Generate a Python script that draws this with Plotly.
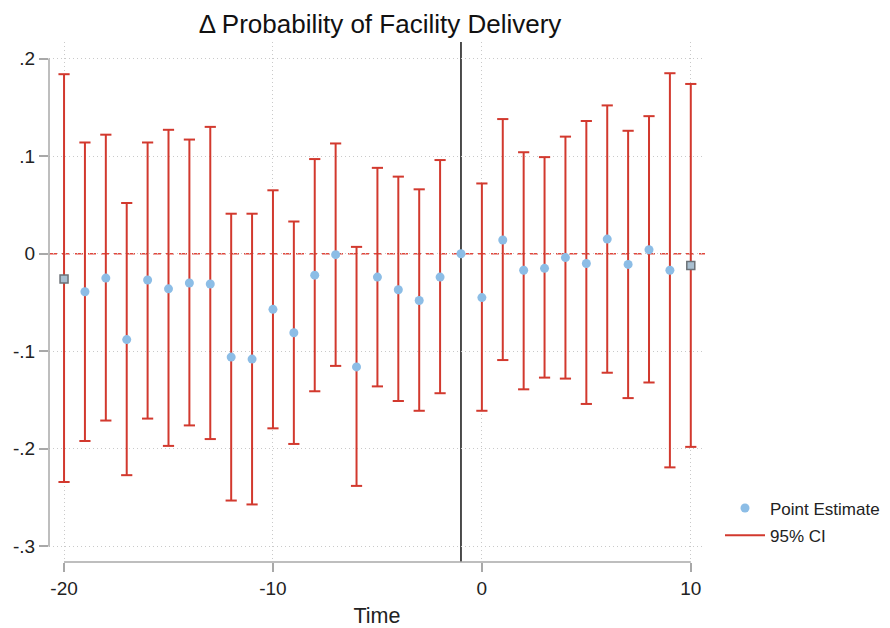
import plotly.graph_objects as go

time = list(range(-20, 11))
estimate = [-0.026, -0.039, -0.025, -0.088, -0.027, -0.036, -0.030, -0.031, -0.106, -0.108, -0.057,
            -0.081, -0.022, -0.001, -0.116, -0.024, -0.037, -0.048, -0.024, 0.0,
            -0.045, 0.014, -0.017, -0.015, -0.004, -0.010, 0.015, -0.011, 0.004, -0.017, -0.012]
ci_low = [-0.234, -0.192, -0.171, -0.227, -0.169, -0.197, -0.176, -0.190, -0.253, -0.257, -0.179,
          -0.195, -0.141, -0.115, -0.238, -0.136, -0.151, -0.161, -0.143, None,
          -0.161, -0.109, -0.139, -0.127, -0.128, -0.154, -0.122, -0.148, -0.132, -0.219, -0.198]
ci_high = [0.184, 0.114, 0.122, 0.052, 0.114, 0.127, 0.117, 0.130, 0.041, 0.041, 0.065,
           0.033, 0.097, 0.113, 0.007, 0.088, 0.079, 0.066, 0.096, None,
           0.072, 0.138, 0.104, 0.099, 0.120, 0.136, 0.152, 0.126, 0.141, 0.185, 0.174]
endpoint_times = [-20, 10]
reference_time = -1

y_ticks = [0.2, 0.1, 0.0, -0.1, -0.2, -0.3]
y_tick_labels = [".2", ".1", "0", "-.1", "-.2", "-.3"]
x_ticks = [-20, -10, 0, 10]
x_tick_labels = ["-20", "-10", "0", "10"]

RED = "#D2392E"
BLUE = "#8CBDE6"
AXIS = "#a8a8a8"
GRID = "#c9c9c9"
FONT = "Liberation Sans, Arial, Helvetica, sans-serif"

# CI vertical segments
ci_x, ci_y = [], []
cap_x, cap_y = [], []
for t, lo, hi in zip(time, ci_low, ci_high):
    if lo is None:
        continue
    ci_x += [t, t, None]
    ci_y += [lo, hi, None]
    cap_x += [t, t]
    cap_y += [lo, hi]

inner_t = [t for t in time if t not in endpoint_times]
inner_e = [e for t, e in zip(time, estimate) if t not in endpoint_times]
end_t = [t for t in time if t in endpoint_times]
end_e = [e for t, e in zip(time, estimate) if t in endpoint_times]

fig = go.Figure()
fig.add_trace(go.Scatter(x=ci_x, y=ci_y, mode="lines", name="95% CI", legendgroup="ci",
                         line=dict(color=RED, width=2), legendrank=2, hoverinfo="skip"))
fig.add_trace(go.Scatter(x=cap_x, y=cap_y, mode="markers", showlegend=False, legendgroup="ci",
                         marker=dict(symbol="line-ew", size=8, line=dict(color=RED, width=2)),
                         hoverinfo="skip"))
fig.add_trace(go.Scatter(x=inner_t, y=inner_e, mode="markers", name="Point Estimate",
                         legendgroup="pe", marker=dict(color=BLUE, size=9), legendrank=1))
fig.add_trace(go.Scatter(x=end_t, y=end_e, mode="markers", showlegend=False, legendgroup="pe",
                         marker=dict(symbol="square", color="#a9bfd0", size=8,
                                     line=dict(color="#6b7177", width=1.5))))

# zero line and reference line
fig.add_hline(y=0, line=dict(color="#E2473C", width=1.5, dash="8px,5px"), layer="below")
fig.add_vline(x=reference_time, line=dict(color="#222222", width=1.6), layer="below")

# Stata-like axis lines spanning the tick range
fig.add_shape(type="line", xref="paper", yref="y", x0=0, x1=0, y0=min(y_ticks), y1=max(y_ticks),
              line=dict(color=AXIS, width=1.5))
fig.add_shape(type="line", xref="x", yref="paper", x0=min(x_ticks), x1=max(x_ticks), y0=0, y1=0,
              line=dict(color=AXIS, width=1.5))

fig.update_layout(
    width=890, height=628,
    paper_bgcolor="white", plot_bgcolor="white",
    margin=dict(l=49, r=185, t=42, b=66),
    font=dict(family=FONT, size=19, color="#222222"),
    title=dict(text="Δ Probability of Facility Delivery", x=380 / 890, xanchor="center",
               y=1 - 24 / 628, yanchor="middle", font=dict(size=26, color="#111111"),
               automargin=False),
    showlegend=True,
    legend=dict(xref="container", yref="container", x=720 / 890, xanchor="left",
                y=1 - 522 / 628, yanchor="middle",
                font=dict(size=17, color="#222222"), traceorder="grouped", tracegroupgap=2,
                bgcolor="rgba(0,0,0,0)", itemwidth=40),
    xaxis=dict(range=[-20.72, 10.68], tickvals=x_ticks, ticktext=x_tick_labels, automargin=False,
               showgrid=True, gridcolor=GRID, griddash="1px,3px", gridwidth=1,
               zeroline=False, showline=False, ticks="outside", ticklen=9, tickcolor=AXIS,
               tickwidth=1.5, title=dict(text="Time", font=dict(size=21.5), standoff=12),
               tickfont=dict(size=19)),
    yaxis=dict(range=[-0.316, 0.217], tickvals=y_ticks, ticktext=y_tick_labels, automargin=False,
               showgrid=True, gridcolor=GRID, griddash="1px,3px", gridwidth=1,
               zeroline=False, showline=False, ticks="outside", ticklen=9, tickcolor=AXIS,
               tickwidth=1.5, tickfont=dict(size=19)),
)

fig.write_html("out.html", config={"displayModeBar": False},
               post_script="document.body.style.margin='0';")
